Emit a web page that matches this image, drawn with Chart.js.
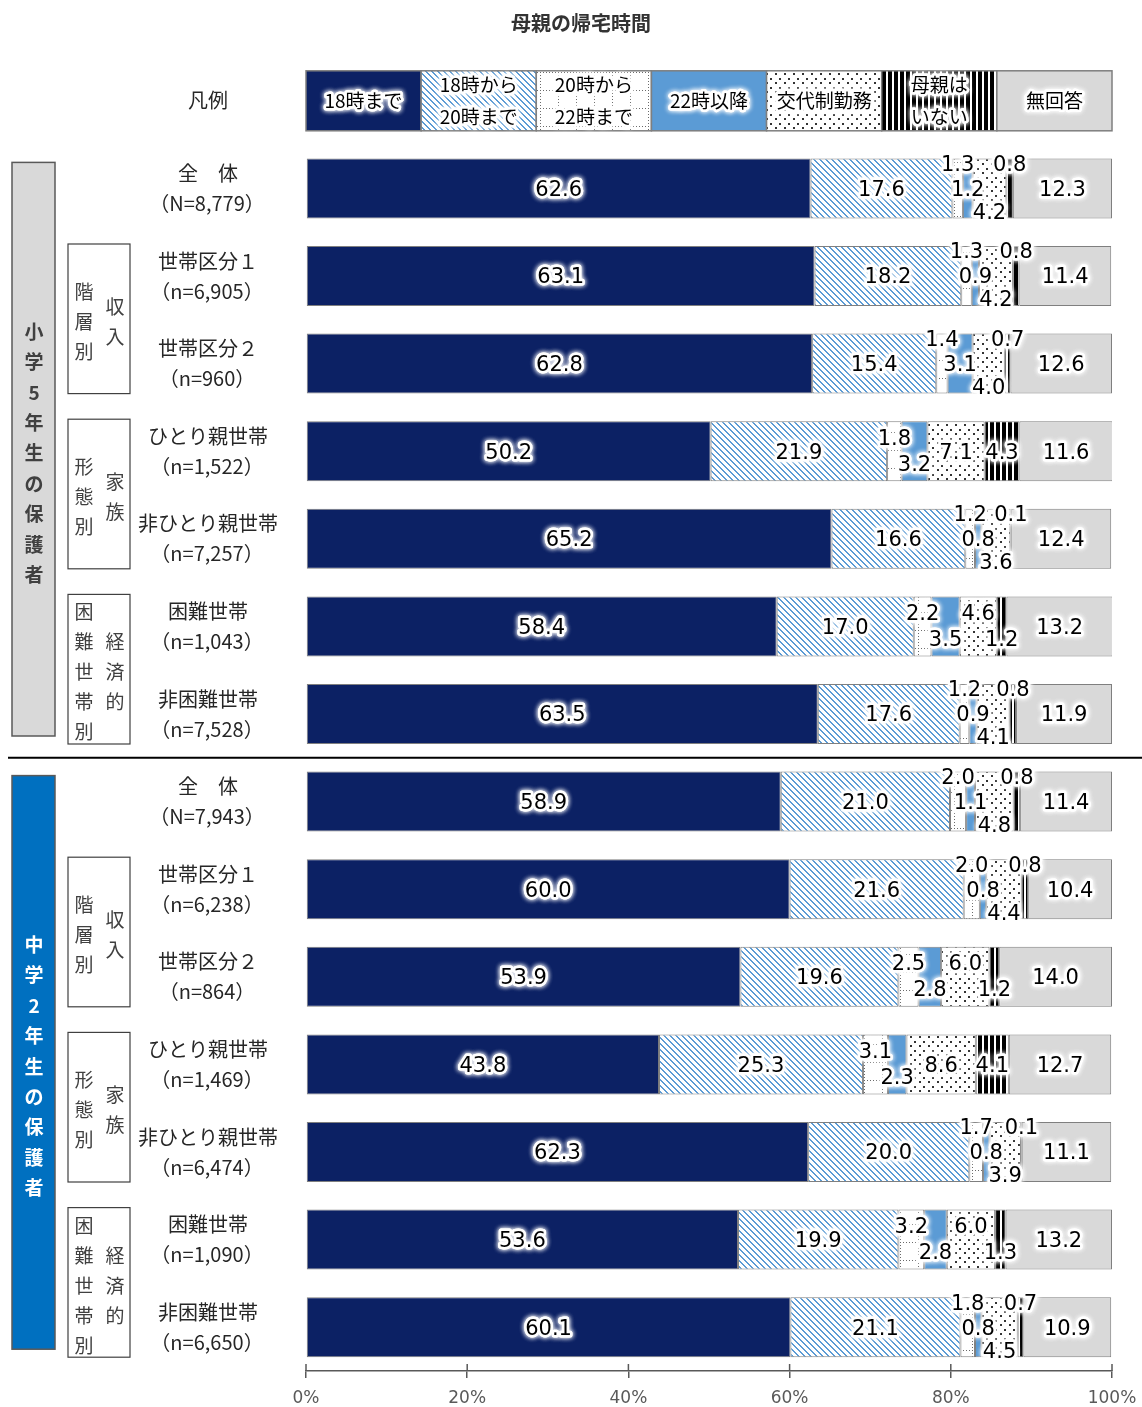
<!DOCTYPE html>
<html lang="ja">
<head>
<meta charset="utf-8">
<title>母親の帰宅時間</title>
<script src="https://cdn.jsdelivr.net/npm/chart.js@4.4.1/dist/chart.umd.min.js"></script>
<style>
  body { margin: 0; background: #fff; }
  #wrap { position: relative; width: 1142px; height: 1407px; }
  #title { position: absolute; top: 8px; left: 0; width: 1162px; text-align: center;
           font: bold 20px "Noto Sans CJK JP", sans-serif; color: #333; }
</style>
</head>
<body>
<div id="wrap">
  <canvas id="returnChart" width="1142" height="1407"></canvas>
  <div id="title">母親の帰宅時間</div>
</div>
<script>
// series and rows
const seriesNames = ["18時まで", "18時から20時まで", "20時から22時まで", "22時以降", "交代制勤務", "母親はいない", "無回答"];
const rowNames = ["全　体", "世帯区分１", "世帯区分２", "ひとり親世帯", "非ひとり親世帯", "困難世帯", "非困難世帯",
                  "全　体", "世帯区分１", "世帯区分２", "ひとり親世帯", "非ひとり親世帯", "困難世帯", "非困難世帯"];
const rowCounts = ["（N=8,779）", "（n=6,905）", "（n=960）", "（n=1,522）", "（n=7,257）", "（n=1,043）", "（n=7,528）",
                   "（N=7,943）", "（n=6,238）", "（n=864）", "（n=1,469）", "（n=6,474）", "（n=1,090）", "（n=6,650）"];

const until18    = [62.6, 63.1, 62.8, 50.2, 65.2, 58.4, 63.5, 58.9, 60.0, 53.9, 43.8, 62.3, 53.6, 60.1];
const from18to20 = [17.6, 18.2, 15.4, 21.9, 16.6, 17.0, 17.6, 21.0, 21.6, 19.6, 25.3, 20.0, 19.9, 21.1];
const from20to22 = [1.3, 1.3, 1.4, 1.8, 1.2, 2.2, 1.2, 2.0, 2.0, 2.5, 3.1, 1.7, 3.2, 1.8];
const after22    = [1.2, 0.9, 3.1, 3.2, 0.8, 3.5, 0.9, 1.1, 0.8, 2.8, 2.3, 0.8, 2.8, 0.8];
const shiftWork  = [4.2, 4.2, 4.0, 7.1, 3.6, 4.6, 4.1, 4.8, 4.4, 6.0, 8.6, 3.9, 6.0, 4.5];
const noMother   = [0.8, 0.8, 0.7, 4.3, 0.1, 1.2, 0.8, 0.8, 0.8, 1.2, 4.1, 0.1, 1.3, 0.7];
const noAnswer   = [12.3, 11.4, 12.6, 11.6, 12.4, 13.2, 11.9, 11.4, 10.4, 14.0, 12.7, 11.1, 13.2, 10.9];

const xTicks = [0, 20, 40, 60, 80, 100];

const legendLines = [["18時まで"], ["18時から", "20時まで"], ["20時から", "22時まで"], ["22時以降"], ["交代制勤務"], ["母親は", "いない"], ["無回答"]];
const schoolGroups = [
    { text: "小学5年生の保護者", from: 1, to: 7, fill: "#d9d9d9", color: "#404040" },
    { text: "中学2年生の保護者", from: 8, to: 14, fill: "#0070c0", color: "#ffffff" },
];
const subGroups = [
    { right: "収入", left: "階層別", from: 2, to: 3 },
    { right: "家族", left: "形態別", from: 4, to: 5 },
    { right: "経済的", left: "困難世帯別", from: 6, to: 7 },
    { right: "収入", left: "階層別", from: 9, to: 10 },
    { right: "家族", left: "形態別", from: 11, to: 12 },
    { right: "経済的", left: "困難世帯別", from: 13, to: 14 },
];

// where the small labels (20-22, 22-, shift, none) sit: T/t above, m middle, b/B below
const labelPlace = ["TmBT", "TmBT", "TmBT", "tbmm", "TmBT", "tbtb", "TmBT",
                    "TmBT", "TmBT", "tbtb", "tbmm", "TmBT", "tbtb", "TmBT"];
const labelShift = { T: -25, t: -14, m: 0, b: 12, B: 23 };

// patterns
function tile(w, h, paint) {
    const c = document.createElement("canvas");
    c.width = w; c.height = h;
    const g = c.getContext("2d");
    g.fillStyle = "#fff";
    g.fillRect(0, 0, w, h);
    paint(g);
    return g.createPattern(c, "repeat");
}
const hatchBlue = tile(6, 6, g => {
    g.fillStyle = "#5b9bd5";
    for (let y = 0; y < 6; y++) for (let x = 0; x < 6; x++) {
        if (((x - y) % 6 + 6) % 6 < 2) g.fillRect(x, y, 1, 1);
    }
});
const dottedGrid = tile(18, 18, g => {
    g.fillStyle = "#6a6a6a";
    for (let k = 0; k < 18; k += 3) { g.fillRect(0, k, 1, 1); g.fillRect(k, 0, 1, 1); }
});
const dots = tile(9, 9, g => {
    g.fillStyle = "#333";
    g.fillRect(1, 1, 2, 2);
    g.fillRect(5, 6, 2, 2);
});
const stripes = tile(6, 2, g => {
    g.fillStyle = "#000";
    g.fillRect(0, 0, 4, 2);
});

const fills = ["#0c2164", hatchBlue, dottedGrid, "#5b9bd5", dots, stripes, "#d9d9d9"];
const series = [until18, from18to20, from20to22, after22, shiftWork, noMother, noAnswer];

function haloText(ctx, text, x, y) {
    ctx.save();
    ctx.shadowColor = "#fff";
    ctx.shadowBlur = 5;
    ctx.strokeStyle = "rgba(255,255,255,0.95)";
    ctx.lineWidth = 5;
    ctx.lineJoin = "round";
    ctx.strokeText(text, x, y);
    ctx.strokeText(text, x, y);
    ctx.restore();
    ctx.fillText(text, x, y);
}

const jp = '"Noto Sans CJK JP", sans-serif';

const valueLabels = {
    id: "valueLabels",
    afterDatasetsDraw(chart) {
        const ctx = chart.ctx;
        ctx.save();
        ctx.font = '21px "DejaVu Sans", sans-serif';
        ctx.textAlign = "center";
        ctx.textBaseline = "middle";
        ctx.fillStyle = "#000";
        chart.data.datasets.forEach((ds, i) => {
            chart.getDatasetMeta(i).data.forEach((bar, j) => {
                const v = ds.data[j];
                if (v == null) return;
                let dy = 2;
                if (i >= 2 && i <= 5) dy += labelShift[labelPlace[j - 1][i - 2]];
                haloText(ctx, v.toFixed(1), (bar.x + bar.base) / 2, bar.y + dy);
            });
        });
        ctx.restore();
    }
};

const sideDecor = {
    id: "sideDecor",
    afterDraw(chart) {
        const ctx = chart.ctx;
        const xs = chart.scales.x, ys = chart.scales.y;
        const cy = i => ys.getPixelForValue(i);
        const thick = (cy(1) - cy(0)) * 0.685;
        ctx.save();

        // legend row
        const y0 = cy(0) - thick / 2;
        const step = (xs.getPixelForValue(100) - xs.getPixelForValue(0)) / 7;
        for (let k = 0; k < 7; k++) {
            const lx = xs.getPixelForValue(0) + k * step;
            ctx.fillStyle = fills[k];
            ctx.fillRect(lx, y0, step, thick);
            ctx.strokeStyle = "#7f7f7f";
            ctx.lineWidth = 1.5;
            ctx.strokeRect(lx, y0, step, thick);
            ctx.font = "19px " + jp;
            ctx.textAlign = "center";
            ctx.textBaseline = "middle";
            ctx.fillStyle = "#000";
            const lines = legendLines[k];
            lines.forEach((t, n) => {
                const ty = cy(0) + (lines.length === 1 ? 0 : (n === 0 ? -16 : 16));
                haloText(ctx, t, lx + step / 2, ty);
            });
        }

        // row labels
        ctx.fillStyle = "#262626";
        ctx.font = "20px " + jp;
        ctx.textAlign = "center";
        ctx.textBaseline = "middle";
        ctx.fillText("凡例", 208, cy(0));
        rowNames.forEach((name, r) => {
            ctx.fillText(name, 208, cy(r + 1) - 15);
            ctx.fillText(rowCounts[r], 207, cy(r + 1) + 15);
        });

        // school boxes with vertical text
        schoolGroups.forEach(g => {
            const top = cy(g.from) - 26, bottom = cy(g.to) + 22;
            ctx.fillStyle = g.fill;
            ctx.fillRect(12, top, 43, bottom - top);
            ctx.strokeStyle = "#595959";
            ctx.lineWidth = 1.5;
            ctx.strokeRect(12, top, 43, bottom - top);
            ctx.fillStyle = g.color;
            ctx.font = "bold 19px " + jp;
            const chars = [...g.text];
            const mid = (top + bottom) / 2 + 4;
            chars.forEach((c, n) => ctx.fillText(c, 34, mid + (n - (chars.length - 1) / 2) * 30.4));
        });

        // sub-group boxes
        subGroups.forEach(g => {
            const top = cy(g.from) - 32, bottom = cy(g.to) + 30;
            ctx.fillStyle = "#fff";
            ctx.fillRect(68, top, 62, bottom - top);
            ctx.strokeStyle = "#404040";
            ctx.lineWidth = 1.2;
            ctx.strokeRect(68, top, 62, bottom - top);
            ctx.fillStyle = "#404040";
            ctx.font = "19px " + jp;
            const mid = (top + bottom) / 2 + 3;
            ctx.save();
            ctx.beginPath();
            ctx.rect(68, top, 62, bottom - top);
            ctx.clip();
            [[g.right, 115], [g.left, 84]].forEach(([t, x]) => {
                const chars = [...t];
                chars.forEach((c, n) => ctx.fillText(c, x, mid + (n - (chars.length - 1) / 2) * 30));
            });
            ctx.restore();
        });

        // separator between the two school levels
        ctx.strokeStyle = "#000";
        ctx.lineWidth = 2;
        ctx.beginPath();
        const sepY = (cy(7) + cy(8)) / 2;
        ctx.moveTo(8, sepY);
        ctx.lineTo(1142, sepY);
        ctx.stroke();

        // upper halves of the x tick marks
        ctx.strokeStyle = "#595959";
        ctx.lineWidth = 1.5;
        xTicks.forEach(t => {
            const x = xs.getPixelForValue(t);
            ctx.beginPath();
            ctx.moveTo(x, xs.top - 7);
            ctx.lineTo(x, xs.top);
            ctx.stroke();
        });
        ctx.restore();
    }
};

const datasets = seriesNames.map((name, k) => ({
    label: name,
    data: [null, ...series[k]],
    backgroundColor: fills[k],
    borderColor: "#7f7f7f",
    borderWidth: 1,
    borderSkipped: false,
    categoryPercentage: 1,
    barPercentage: 0.685,
}));

new Chart(document.getElementById("returnChart"), {
    type: "bar",
    data: { labels: ["凡例", ...rowNames], datasets: datasets },
    options: {
        indexAxis: "y",
        responsive: false,
        animation: false,
        layout: { padding: { left: 306, right: 30, top: 57, bottom: 2 } },
        plugins: { legend: { display: false }, tooltip: { enabled: false }, title: { display: false } },
        scales: {
            x: {
                stacked: true, min: 0, max: 100,
                afterBuildTicks: axis => { axis.ticks = xTicks.map(v => ({ value: v })); },
                afterFit: axis => { axis.height = 34; axis.paddingLeft = 0; axis.paddingRight = 0; },
                grid: { display: true, drawOnChartArea: false, drawTicks: true, tickLength: 7, color: "#595959", lineWidth: 1.5 },
                border: { display: true, color: "#595959", width: 1.5 },
                ticks: { padding: 10, color: "#595959", font: { family: "DejaVu Sans", size: 17 }, callback: v => v + "%", maxRotation: 0 },
            },
            y: { stacked: true, display: false },
        },
    },
    plugins: [valueLabels, sideDecor],
});
</script>
</body>
</html>
